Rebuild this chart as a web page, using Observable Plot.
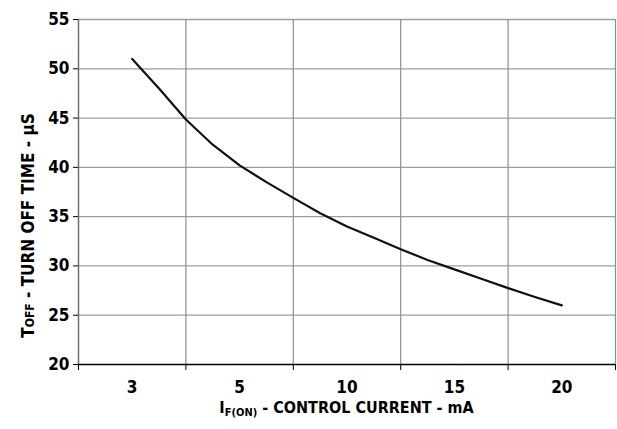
<!DOCTYPE html>
<html>
<head>
<meta charset="utf-8">
<script src="https://cdn.jsdelivr.net/npm/d3@7"></script>
<script src="https://cdn.jsdelivr.net/npm/@observablehq/plot@0.6"></script>
<style>
  html, body { margin: 0; padding: 0; background: #fff; }
  #chart svg { display: block; }
  #chart svg text.tl { font-family: 'DejaVu Sans Condensed', 'DejaVu Sans', sans-serif !important; font-stretch: condensed; font-weight: 900 !important; font-size: 17px !important; }
</style>
</head>
<body>
<div id="chart"></div>
<script>
// Category labels on the x axis (equally spaced categories, mA)
const categories = ["3", "5", "10", "15", "20"];
// Curve: position along category axis (0 = "3", 4 = "20") and turn-off time (µs)
const curvePos = [0, 0.25, 0.5, 0.75, 1, 1.25, 1.5, 1.75, 2, 2.25, 2.5, 2.75, 3, 3.25, 3.5, 3.75, 4];
const curveToff = [51.0, 48.0, 44.85, 42.3, 40.2, 38.5, 36.9, 35.35, 34.0, 32.85, 31.7, 30.6, 29.65, 28.7, 27.75, 26.85, 26.0];
// Y ticks
const yTicks = [20, 25, 30, 35, 40, 45, 50, 55];

const data = curvePos.map((p, i) => ({pos: p, toff: curveToff[i]}));
const catIdx = categories.map((c, i) => i);
const boundaries = d3.range(categories.length + 1).map(i => i - 0.5);

const FONT = "'DejaVu Sans Condensed', 'Liberation Sans Narrow', 'DejaVu Sans', sans-serif";
const W = 617, H = 429;
const mL = 78, mR = 2, mT = 19, mB = 65;

const chart = Plot.plot({
  width: W,
  height: H,
  marginLeft: mL,
  marginRight: mR,
  marginTop: mT,
  marginBottom: mB,
  style: {fontFamily: FONT, fontSize: "17px", color: "#000", background: "#fff"},
  x: {domain: [-0.5, categories.length - 0.5], axis: null},
  y: {domain: [20, 55], axis: null},
  marks: [
    Plot.ruleY(yTicks.filter(d => d > 20), {stroke: "#9a9ea3", strokeWidth: 1.3, strokeOpacity: 1}),
    Plot.ruleX(boundaries.slice(1), {stroke: "#8a8f96", strokeWidth: 1.2, strokeOpacity: 1}),
    Plot.ruleX([boundaries[0]], {stroke: "#707070", strokeWidth: 1.5}),
    Plot.ruleY([20], {stroke: "#000", strokeWidth: 1.5}),
    Plot.axisY({ticks: yTicks, tickSize: 5, tickFormat: () => "", stroke: "#000", label: null}),
    Plot.axisX({ticks: boundaries, tickSize: 6, tickFormat: () => "", label: null, stroke: "#000"}),
    Plot.text(yTicks, {x: boundaries[0], y: d => d, text: d => String(d), dx: -9,
      textAnchor: "end", fontSize: 17, fontWeight: "bold", fill: "#000"}),
    Plot.text(catIdx, {x: d => d, y: 20, text: d => categories[d], dy: 23,
      fontSize: 17, fontWeight: "bold", fill: "#000"}),
    Plot.line(data, {x: "pos", y: "toff", stroke: "#111", strokeWidth: 2.2, curve: "linear"})
  ]
});

document.getElementById("chart").appendChild(chart);

const svg = d3.select(chart);
svg.selectAll('g[aria-label="text"] text').classed("tl", true);

// Axis titles with subscripts
const xt = svg.append("text")
  .attr("x", mL + (W - mL - mR) / 2)
  .attr("y", H - 16)
  .attr("text-anchor", "middle")
  .style("font-family", FONT).style("font-weight", "bold").style("font-size", "16px").attr("fill", "#000");
xt.append("tspan").text("I");
xt.append("tspan").attr("dy", 3).style("font-size", "11px").text("F(ON)");
xt.append("tspan").attr("dy", -3).text(" - CONTROL CURRENT - mA");

const yt = svg.append("text")
  .attr("transform", `translate(34, ${mT + (H - mT - mB) / 2 + 34}) rotate(-90)`)
  .attr("text-anchor", "middle")
  .style("font-family", FONT).style("font-weight", "bold").style("font-size", "17px").attr("fill", "#000");
yt.append("tspan").text("T");
yt.append("tspan").style("font-size", "12px").text("OFF");
yt.append("tspan").text(" - TURN OFF TIME - \u00B5S");
</script>
</body>
</html>
